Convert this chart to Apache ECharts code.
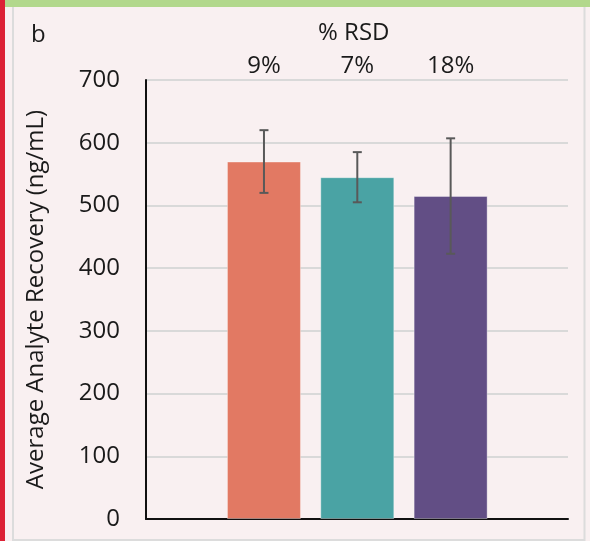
<!DOCTYPE html>
<html>
<head>
<meta charset="utf-8">
<script src="https://cdn.jsdelivr.net/npm/echarts@6/dist/echarts.min.js"></script>
<style>
html,body{margin:0;padding:0;background:#f9f0f1;}
#c{width:590px;height:541px;}
</style>
</head>
<body>
<div id="c"></div>
<script>
// ---- data ----
var categories = ['Sample 1', 'Sample 2', 'Sample 3'];
var recovery = [570, 545, 515];
var errors = [50, 40, 92];
var rsdLabels = ['9%', '7%', '18%'];
var barColors = ['#e27963', '#4aa3a4', '#624e85'];
var yTicks = [0, 100, 200, 300, 400, 500, 600, 700];

var FONT = 'Open Sans';
var chart = echarts.init(document.getElementById('c'));

var errData = categories.map(function (c, i) { return [i, recovery[i], errors[i]]; });

var option = {
  backgroundColor: '#f9f0f1',
  animation: false,
  graphic: [
    { type: 'rect', shape: { x: 0, y: 0, width: 590, height: 7 }, style: { fill: '#b2d88c' }, z: 10 },
    { type: 'rect', shape: { x: 0, y: 0, width: 5, height: 541 }, style: { fill: '#dc2135' }, z: 11 },
    { type: 'line', shape: { x1: 13, y1: 7, x2: 13, y2: 541 }, style: { stroke: '#dcdcdc', lineWidth: 2 } },
    { type: 'line', shape: { x1: 584.5, y1: 7, x2: 584.5, y2: 541 }, style: { stroke: '#dcdcdc', lineWidth: 2 } },
    { type: 'line', shape: { x1: 13, y1: 540, x2: 585, y2: 540 }, style: { stroke: '#dcdcdc', lineWidth: 2 } }
  ],
  title: [
    { text: 'b', left: 26, top: 18, textStyle: { fontFamily: FONT, fontSize: 24, fontWeight: 'normal', color: '#1a1a1a' } },
    { text: '% RSD', left: 313, top: 16, textStyle: { fontFamily: FONT, fontSize: 24, fontWeight: 'normal', color: '#1a1a1a' } }
  ],
  grid: [
    { left: 146, right: 22, top: 80, bottom: 22 },
    { left: 217.3, width: 280, top: 80, bottom: 22 }
  ],
  xAxis: [
    { gridIndex: 0, type: 'value', min: 0, max: 1,
      axisLine: { show: true, lineStyle: { color: '#111', width: 2 } },
      axisTick: { show: false }, axisLabel: { show: false }, splitLine: { show: false } },
    { gridIndex: 1, type: 'category', data: categories, position: 'bottom',
      axisLine: { show: false }, axisTick: { show: false }, axisLabel: { show: false } },
    { gridIndex: 1, type: 'category', data: rsdLabels, position: 'top',
      axisLine: { show: false }, axisTick: { show: false },
      axisLabel: { show: true, fontFamily: FONT, fontSize: 24, color: '#1a1a1a', margin: 2 } }
  ],
  yAxis: [
    { gridIndex: 0, type: 'value', min: yTicks[0], max: yTicks[yTicks.length - 1], interval: 100,
      name: 'Average Analyte Recovery (ng/mL)', nameLocation: 'middle', nameGap: 98,
      nameTextStyle: { fontFamily: FONT, fontSize: 24, color: '#1a1a1a' },
      axisLine: { show: true, lineStyle: { color: '#111', width: 2 } },
      axisTick: { show: false },
      axisLabel: { fontFamily: FONT, fontSize: 24, color: '#1a1a1a', margin: 26 },
      splitLine: { show: true, lineStyle: { color: '#d9d9d9', width: 2 } } },
    { gridIndex: 1, type: 'value', min: yTicks[0], max: yTicks[yTicks.length - 1], interval: 100,
      axisLine: { show: false }, axisTick: { show: false }, axisLabel: { show: false }, splitLine: { show: false } }
  ],
  series: [
    { type: 'bar', xAxisIndex: 1, yAxisIndex: 1, barWidth: 74,
      data: recovery.map(function (v, i) {
        return { value: v, itemStyle: { color: barColors[i], borderColor: 'rgba(255,255,255,0.35)', borderWidth: 1 } };
      }) },
    { type: 'custom', xAxisIndex: 1, yAxisIndex: 1, z: 5,
      data: errData,
      renderItem: function (params, api) {
        var idx = api.value(0), m = api.value(1), e = api.value(2);
        var top = api.coord([idx, m + e]);
        var bot = api.coord([idx, m - e]);
        var hw = 4.5;
        var st = { stroke: '#595959', lineWidth: 2 };
        return { type: 'group', children: [
          { type: 'line', shape: { x1: top[0], y1: top[1], x2: bot[0], y2: bot[1] }, style: st },
          { type: 'line', shape: { x1: top[0] - hw, y1: top[1], x2: top[0] + hw, y2: top[1] }, style: st },
          { type: 'line', shape: { x1: bot[0] - hw, y1: bot[1], x2: bot[0] + hw, y2: bot[1] }, style: st }
        ] };
      } }
  ]
};
chart.setOption(option);
</script>
</body>
</html>
